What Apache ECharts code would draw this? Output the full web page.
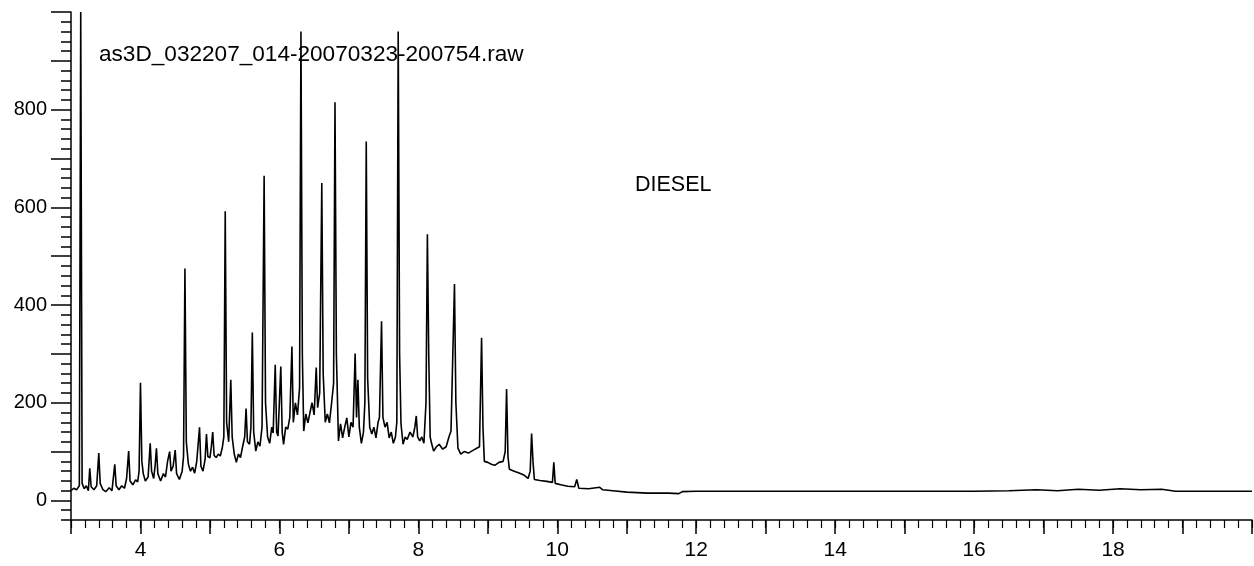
<!DOCTYPE html>
<html>
<head>
<meta charset="utf-8">
<script src="https://cdn.jsdelivr.net/npm/echarts@6/dist/echarts.min.js"></script>
<style>
    html, body {margin: 0; padding: 0; background: #fff;}
    #main {width: 1254px; height: 566px;}
</style>
</head>
<body>
<div id="main"></div>
<script>
// retention time (min) / abundance
var early = [
    [3.00, 20], [3.04, 25], [3.08, 22], [3.12, 30], [3.14, 1000], [3.16, 35], [3.19, 24], [3.22, 30],
    [3.25, 20], [3.27, 66], [3.29, 28], [3.33, 22], [3.37, 30], [3.40, 97], [3.42, 35], [3.46, 22],
    [3.50, 18], [3.55, 26], [3.59, 20], [3.63, 74], [3.65, 30], [3.69, 22], [3.73, 30], [3.77, 25],
    [3.80, 45], [3.83, 101], [3.85, 40], [3.89, 32], [3.93, 42], [3.96, 38], [3.98, 60], [4.00, 241],
    [4.02, 80], [4.04, 55], [4.07, 40], [4.11, 48], [4.14, 117], [4.16, 60], [4.19, 45], [4.21, 70],
    [4.23, 107], [4.25, 55], [4.29, 40], [4.33, 55], [4.36, 48], [4.39, 80], [4.42, 100], [4.44, 60],
    [4.47, 70], [4.50, 103], [4.52, 55], [4.56, 43], [4.60, 60], [4.62, 90], [4.64, 475], [4.66, 120],
    [4.69, 74], [4.72, 60], [4.75, 68], [4.78, 56], [4.81, 80], [4.85, 150], [4.87, 70], [4.90, 60],
    [4.93, 84], [4.95, 136], [4.97, 90], [5.00, 87], [5.02, 110], [5.04, 140], [5.06, 92], [5.09, 88],
    [5.12, 95], [5.15, 91], [5.18, 110], [5.20, 130]
];
var middle = [
    [5.22, 592], [5.24, 160], [5.27, 120], [5.30, 247], [5.32, 130], [5.35, 95], [5.38, 78], [5.41, 95],
    [5.44, 88], [5.47, 110], [5.50, 130], [5.52, 188], [5.54, 120], [5.57, 115], [5.59, 150], [5.61, 344],
    [5.63, 140], [5.66, 101], [5.69, 120], [5.72, 111], [5.75, 150], [5.78, 665], [5.80, 200], [5.83, 130],
    [5.86, 117], [5.89, 150], [5.91, 138], [5.94, 278], [5.96, 140], [5.98, 132], [6.02, 274], [6.04, 140],
    [6.06, 115], [6.09, 150], [6.12, 146], [6.15, 170], [6.18, 315], [6.20, 160], [6.23, 200], [6.26, 175],
    [6.29, 230], [6.31, 960], [6.33, 300], [6.35, 142], [6.38, 177], [6.41, 159], [6.44, 180], [6.47, 200],
    [6.50, 175], [6.53, 272], [6.55, 190], [6.58, 220], [6.61, 650], [6.63, 260], [6.66, 160], [6.69, 177],
    [6.72, 159], [6.75, 198], [6.78, 240], [6.80, 815], [6.82, 300], [6.85, 122], [6.88, 157], [6.91, 128],
    [6.94, 150], [6.97, 169], [7.00, 130], [7.03, 160], [7.06, 150], [7.09, 301], [7.11, 170], [7.13, 247],
    [7.15, 150], [7.18, 117], [7.21, 140], [7.23, 200], [7.25, 735], [7.27, 250], [7.30, 150], [7.33, 136],
    [7.36, 150], [7.39, 128], [7.42, 160], [7.44, 170], [7.47, 367], [7.49, 170], [7.52, 150], [7.55, 160],
    [7.58, 128], [7.61, 140], [7.64, 117], [7.67, 130], [7.69, 160], [7.71, 960], [7.73, 300], [7.75, 157],
    [7.78, 115], [7.81, 130], [7.84, 125], [7.88, 140], [7.92, 130], [7.95, 150], [7.97, 173], [7.99, 130],
    [8.02, 122], [8.05, 130], [8.08, 117], [8.11, 200], [8.13, 545], [8.15, 293], [8.17, 130], [8.19, 117],
    [8.22, 101], [8.26, 110], [8.30, 115], [8.35, 105], [8.40, 110], [8.44, 130], [8.47, 142], [8.52, 443],
    [8.54, 200], [8.57, 107]
];
var late = [
    [8.61, 95], [8.66, 100], [8.72, 97], [8.78, 102], [8.84, 107], [8.88, 110], [8.91, 333], [8.93, 150],
    [8.95, 80], [9.00, 78], [9.05, 74], [9.10, 72], [9.16, 78], [9.22, 80], [9.25, 100], [9.27, 228],
    [9.29, 90], [9.31, 64], [9.38, 60], [9.45, 56], [9.52, 52], [9.58, 45], [9.61, 60], [9.63, 137],
    [9.65, 80], [9.67, 43], [9.75, 41], [9.85, 39], [9.93, 37], [9.95, 78], [9.97, 35], [10.05, 32],
    [10.15, 29], [10.25, 28], [10.28, 43], [10.31, 25], [10.45, 24], [10.61, 27], [10.65, 22], [10.80, 20],
    [11.00, 17], [11.30, 15], [11.60, 15], [11.75, 14], [11.80, 18], [12.00, 19], [13.00, 19], [14.00, 19],
    [15.00, 19], [16.00, 19], [16.50, 20], [16.90, 22], [17.20, 20], [17.50, 23], [17.80, 21], [18.10, 24],
    [18.40, 22], [18.70, 23], [18.90, 19], [19.50, 19], [20.00, 19]
];

var xMajorTicks = [3, 4, 5, 6, 7, 8, 9, 10, 11, 12, 13, 14, 15, 16, 17, 18, 19, 20];
var xLabelValues = [4, 6, 8, 10, 12, 14, 16, 18];
var yMajorTicks = [0, 100, 200, 300, 400, 500, 600, 700, 800, 900, 1000];
var yLabelValues = [0, 200, 400, 600, 800];

var fileName = 'as3D_032207_014-20070323-200754.raw';
var sampleName = 'DIESEL';

var font = 'Liberation Sans, Arial, sans-serif';
var black = '#000';

var chart = echarts.init(document.getElementById('main'));
chart.setOption({
    backgroundColor: '#fff',
    animation: false,
    grid: {left: 71, right: 2, top: 12, bottom: 46},
    xAxis: [
        {
            type: 'value',
            position: 'bottom',
            min: 3,
            max: 20,
            interval: 0.2,
            axisLine: {onZero: false, lineStyle: {color: black, width: 1.5}},
            axisTick: {length: 8, lineStyle: {color: black, width: 1.2}},
            axisLabel: {show: false},
            splitLine: {show: false}
        },
        {
            type: 'value',
            position: 'bottom',
            min: 3,
            max: 20,
            axisLine: {show: false, onZero: false},
            axisTick: {customValues: xMajorTicks, length: 14, lineStyle: {color: black, width: 1.5}},
            axisLabel: {
                customValues: xLabelValues,
                margin: 20,
                fontSize: 21,
                color: black,
                fontFamily: font
            },
            splitLine: {show: false}
        }
    ],
    yAxis: [
        {
            type: 'value',
            position: 'left',
            min: -40,
            max: 1000,
            interval: 20,
            axisLine: {show: true, onZero: false, lineStyle: {color: black, width: 1.5}},
            axisTick: {show: true, length: 10, lineStyle: {color: black, width: 1.5}},
            axisLabel: {show: false},
            splitLine: {show: false}
        },
        {
            type: 'value',
            position: 'left',
            min: -40,
            max: 1000,
            axisLine: {show: false, onZero: false},
            axisTick: {show: true, customValues: yMajorTicks, length: 20, lineStyle: {color: black, width: 1.5}},
            axisLabel: {
                customValues: yLabelValues,
                margin: 24,
                fontSize: 20,
                color: black,
                fontFamily: font
            },
            splitLine: {show: false}
        }
    ],
    graphic: [
        {
            type: 'text',
            left: 99,
            top: 43,
            style: {text: fileName, font: '22.6px ' + font, fill: black}
        },
        {
            type: 'text',
            left: 635,
            top: 174,
            style: {text: sampleName, font: '21.5px ' + font, fill: black}
        }
    ],
    series: [
        {
            name: 'TIC',
            type: 'line',
            xAxisIndex: 0,
            yAxisIndex: 0,
            showSymbol: false,
            clip: true,
            lineStyle: {color: black, width: 1.6},
            data: early.concat(middle, late)
        }
    ]
});
</script>
</body>
</html>
